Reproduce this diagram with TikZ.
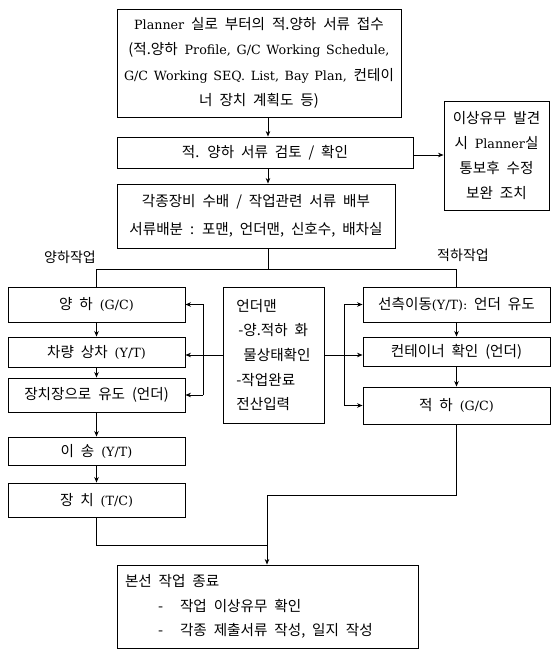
\documentclass[tikz,border=0pt]{standalone}
\usepackage{fontspec}
\setmainfont{Noto Sans CJK KR}[WordSpace=2.1]
\newfontfamily\latfont{DejaVu Serif}[Scale=0.87,WordSpace=1.4]
\newcommand\latn[1]{{\latfont #1}}
\usetikzlibrary{arrows.meta}
\newcommand\dgfont[1]{\fontsize{14.6}{#1}\selectfont}
\begin{document}
\begin{tikzpicture}[x=1pt,y=-1pt,
  box/.style={draw, line width=0.9pt, inner sep=0pt, align=center, font=\dgfont{25}},
  ar/.style={-{Stealth[length=5.5pt,width=4.5pt]}, line width=0.8pt},
  ln/.style={line width=0.8pt},
  lbl/.style={inner sep=0pt, font=\fontsize{14}{16}\selectfont}]
\useasboundingbox (0,0) rectangle (553,650);
% main column
\node[box, minimum width=284, minimum height=108, font=\dgfont{25.3}] (top) at (259,63)
  {\latn{Planner} 실로 부터의 적.양하 서류 접수\\(적.양하 \latn{Profile, G/C Working Schedule,}\\\latn{G/C Working SEQ. List, Bay Plan,} 컨테이\\너 장치 계획도 등)};
\node[box, minimum width=296, minimum height=31] (b2) at (265,152.5) {적. 양하 서류 검토 / 확인};
\node[box, minimum width=278, minimum height=64, font=\dgfont{28}] (b3) at (256,216)
  {각종장비 수배 / 작업관련 서류 배부\\서류배분 : 포맨, 언더맨, 신호수, 배차실};
\node[box, minimum width=105, minimum height=109, font=\dgfont{25.3}] (rb) at (496.5,155.5)
  {이상유무 발견\\시 \latn{Planner}실\\통보후 수정\\보완 조치};
% labels
\node[lbl] (lblL) at (70,257) {양하작업};
\node[lbl] (lblR) at (463,255) {적하작업};
% left column
\node[box, minimum width=177, minimum height=35] (L1) at (96.5,304.5) {양 하 \latn{(G/C)}};
\node[box, minimum width=177, minimum height=30] (L2) at (96.5,352) {차량 상차 \latn{(Y/T)}};
\node[box, minimum width=177, minimum height=34] (L3) at (96.5,395) {장치장으로 유도 (언더)};
\node[box, minimum width=177, minimum height=28] (L4) at (96.5,451) {이 송 \latn{(Y/T)}};
\node[box, minimum width=177, minimum height=34] (L5) at (96.5,500) {장 치 \latn{(T/C)}};
% middle
\node[box, minimum width=101, minimum height=136, align=left, font=\dgfont{24.7}] (M) at (273.5,355)
  {언더맨\\\hspace*{2pt}-양.적하 화\\\hspace*{7pt}물상태확인\\-작업완료\\전산입력};
% right column
\node[box, minimum width=187, minimum height=35] (R1) at (456.5,304.5) {선측이동\latn{(Y/T):} 언더 유도};
\node[box, minimum width=187, minimum height=29] (R2) at (456.5,351.5) {컨테이너 확인 (언더)};
\node[box, minimum width=187, minimum height=37] (R3) at (456.5,405.5) {적 하 \latn{(G/C)}};
% final
\node[box, minimum width=301, minimum height=83, align=left, font=\dgfont{24.5}] (fin) at (267.5,606.5)
  {\begin{minipage}{285pt}본선 작업 종료\\\hspace*{33pt}-\hspace{17pt}작업 이상유무 확인\\\hspace*{33pt}-\hspace{17pt}각종 제출서류 작성, 일지 작성\end{minipage}};
% helper coordinates
\coordinate (sx) at (268,0);
\coordinate (hy) at (0,269);
\coordinate (vl) at (203,0);
\coordinate (vr) at (344,0);
\coordinate (jx) at (267,0);
\coordinate (jy1) at (0,495);
\coordinate (jy2) at (0,545);
% connectors top
\draw[ar] (top.south -| sx) -- (b2.north -| sx);
\draw[ar] (b2.south -| sx) -- (b3.north -| sx);
\draw[ar] (b2.east |- 0,155) -- (rb.west |- 0,155);
\draw[ln] (b3.south -| sx) -- (sx |- hy);
\draw[ln] (L1.north) -- (L1.north |- hy) -- (R1.north |- hy) -- (R1.north);
% left chain
\draw[ar] (L1.south) -- (L2.north);
\draw[ar] (L2.south) -- (L3.north);
\draw[ar] (L3.south) -- (L4.north);
\draw[ar] (L4.south) -- (L5.north);
% right chain
\draw[ar] (R1.south) -- (R2.north);
\draw[ar] (R2.south) -- (R3.north);
% middle links
\draw[ar] (M.west) -- (M.west -| L2.east);
\draw[ar] (vl |- L3.east) -- (vl |- L1.east) -- (L1.east);
\draw[ar] (vl |- L3.east) -- (L3.east);
\draw[ar] (M.east) -- (M.east -| R2.west);
\draw[ar] (vr |- R3.west) -- (vr |- R1.west) -- (R1.west);
\draw[ar] (vr |- R3.west) -- (R3.west);
% bottom join
\draw[ln] (R3.south) -- (R3.south |- jy1) -- (jx |- jy1);
\draw[ln] (L5.south) -- (L5.south |- jy2) -- (jx |- jy2);
\draw[ar] (jx |- jy1) -- (fin.north -| jx);
\end{tikzpicture}
\end{document}
